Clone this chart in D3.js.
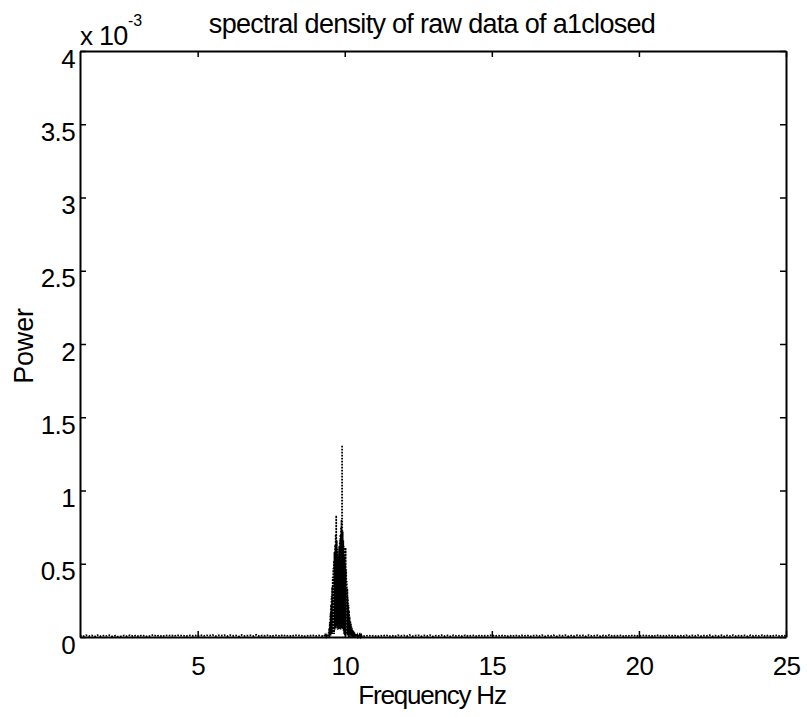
<!DOCTYPE html>
<html>
<head>
<meta charset="utf-8">
<script src="https://cdn.jsdelivr.net/npm/d3@7"></script>
<style>
  body { margin: 0; background: #fff; }
  text { font-family: "Liberation Sans", Arial, sans-serif; fill: #000; }
</style>
</head>
<body>
<svg id="chart" width="807" height="717"></svg>
<script>
// power values are in units of 1e-3
const xTicks = [5, 10, 15, 20, 25];
const yTicks = [0, 0.5, 1, 1.5, 2, 2.5, 3, 3.5, 4];
const yTickLabels = ["0", "0.5", "1", "1.5", "2", "2.5", "3", "3.5", "4"];

// baseline part of the spectrum below the peak, every 0.1 Hz from 1 Hz
const lowStart = 1, lowStep = 0.1;
const lowPower = [
    0.010, 0.004, 0.012, 0.006, 0.011, 0.003, 0.013, 0.005, 0.010, 0.007,
    0.012, 0.004, 0.009, 0.002, 0.006, 0.011, 0.005, 0.013, 0.006, 0.010,
    0.004, 0.012, 0.007, 0.003, 0.009, 0.014, 0.006, 0.011, 0.004, 0.012,
    0.008, 0.012, 0.006, 0.013, 0.009, 0.011, 0.005, 0.012, 0.008, 0.011,
    0.006, 0.013, 0.007, 0.012, 0.009, 0.014, 0.006, 0.012, 0.010, 0.013,
    0.005, 0.013, 0.008, 0.011, 0.004, 0.014, 0.007, 0.010, 0.012, 0.006,
    0.015, 0.005, 0.011, 0.008, 0.013, 0.004, 0.010, 0.012, 0.006, 0.014,
    0.007, 0.011, 0.005, 0.013, 0.009, 0.012, 0.004, 0.010, 0.007, 0.013,
    0.006, 0.011, 0.008
];
// the alpha peak, every 0.01 Hz from 9.3 Hz
const peakStart = 9.3, peakStep = 0.01;
const peakPower = [
    0.005, 0.012, 0.003, 0.010, 0.004, 0.015, 0.002, 0.011, 0.006, 0.018,
    0.000, 0.010, 0.000, 0.020, 0.000, 0.030, 0.010, 0.060, 0.000, 0.100,
    0.020, 0.160, 0.010, 0.220, 0.030, 0.280, 0.020, 0.340, 0.030, 0.410,
    0.020, 0.470, 0.030, 0.520, 0.020, 0.580, 0.050, 0.630, 0.060, 0.700,
    0.070, 0.830, 0.060, 0.660, 0.070, 0.600, 0.050, 0.550, 0.060, 0.570,
    0.050, 0.620, 0.060, 0.660, 0.070, 0.700, 0.050, 0.750, 0.060, 0.800,
    0.070, 1.310, 0.060, 0.720, 0.050, 0.660, 0.040, 0.620, 0.020, 0.550,
    0.010, 0.500, 0.020, 0.610, 0.010, 0.460, 0.020, 0.380, 0.010, 0.330,
    0.010, 0.270, 0.020, 0.220, 0.000, 0.180, 0.010, 0.140, 0.000, 0.110,
    0.010, 0.090, 0.000, 0.070, 0.005, 0.060, 0.000, 0.050, 0.004, 0.040,
    0.000, 0.035, 0.003, 0.030, 0.000, 0.025, 0.006, 0.020, 0.002, 0.018,
    0.005, 0.015, 0.003, 0.012, 0.006, 0.014, 0.002, 0.011, 0.005, 0.010,
    0.004, 0.012, 0.006, 0.009, 0.003, 0.011, 0.005, 0.010, 0.004, 0.008
];
// baseline above the peak, every 0.1 Hz from 10.6 Hz
const highStart = 10.6, highStep = 0.1;
const highPower = [
    0.009, 0.004, 0.012, 0.006, 0.010, 0.003, 0.011, 0.007, 0.013, 0.005,
    0.010, 0.004, 0.012, 0.008, 0.011, 0.005, 0.014, 0.006, 0.010, 0.012,
    0.005, 0.011, 0.007, 0.013, 0.004, 0.010, 0.008, 0.012, 0.006, 0.011,
    0.003, 0.012, 0.007, 0.010, 0.005, 0.013, 0.006, 0.009, 0.011, 0.004,
    0.012, 0.006, 0.010, 0.008, 0.014, 0.005, 0.011, 0.007, 0.012, 0.004,
    0.010, 0.006, 0.013, 0.005, 0.011, 0.008, 0.012, 0.004, 0.009, 0.011,
    0.006, 0.013, 0.005, 0.010, 0.007, 0.012, 0.004, 0.011, 0.008, 0.013,
    0.005, 0.010, 0.006, 0.012, 0.009, 0.011, 0.004, 0.013, 0.007, 0.010,
    0.012, 0.005, 0.011, 0.007, 0.014, 0.006, 0.010, 0.008, 0.012, 0.004,
    0.011, 0.006, 0.013, 0.005, 0.010, 0.008, 0.012, 0.006, 0.011, 0.004,
    0.013, 0.007, 0.010, 0.005, 0.012, 0.008, 0.011, 0.004, 0.010, 0.006,
    0.012, 0.005, 0.011, 0.007, 0.013, 0.006, 0.010, 0.008, 0.012, 0.005,
    0.010, 0.006, 0.012, 0.004, 0.011, 0.007, 0.013, 0.005, 0.010, 0.008,
    0.011, 0.004, 0.012, 0.006, 0.010, 0.007, 0.013, 0.005, 0.011, 0.006,
    0.009, 0.012, 0.005, 0.010, 0.007
];

const svg = d3.select("#chart");
const margin = {left: 80, right: 21, top: 51, bottom: 80};
const W = 807 - margin.left - margin.right;
const H = 717 - margin.top - margin.bottom;

const x = d3.scaleLinear().domain([1, 25]).range([0, W]);
const y = d3.scaleLinear().domain([0, 4]).range([H, 0]);

let pts = [];
lowPower.forEach((p, i) => pts.push([lowStart + i*lowStep, p]));
peakPower.forEach((p, i) => pts.push([peakStart + i*peakStep, p]));
highPower.forEach((p, i) => pts.push([highStart + i*highStep, p]));

const g = svg.append("g").attr("transform", `translate(${margin.left},${margin.top})`);

const line = d3.line().x(d => x(d[0])).y(d => y(d[1]));
g.append("path")
    .datum(pts)
    .attr("d", line)
    .attr("fill", "none")
    .attr("stroke", "#000")
    .attr("stroke-width", 1.7)
    .attr("stroke-dasharray", "1.7,1.3");

// axes, ticks pointing inward like matlab
const tk = 6;
const axB = g.append("g").attr("transform", `translate(0,${H})`)
    .call(d3.axisBottom(x).tickValues(xTicks).tickSizeInner(-tk).tickSizeOuter(0).tickPadding(20));
const axT = g.append("g")
    .call(d3.axisTop(x).tickValues(xTicks).tickSizeInner(-tk).tickSizeOuter(0).tickFormat(""));
const axL = g.append("g")
    .call(d3.axisLeft(y).tickValues(yTicks).tickSizeInner(-tk).tickSizeOuter(0)
        .tickFormat((d, i) => yTickLabels[i]).tickPadding(5));
const axR = g.append("g").attr("transform", `translate(${W},0)`)
    .call(d3.axisRight(y).tickValues(yTicks).tickSizeInner(-tk).tickSizeOuter(0).tickFormat(""));

[axB, axT, axL, axR].forEach(a => {
    a.select(".domain").attr("stroke", "#000").attr("stroke-width", 2);
    a.selectAll(".tick line").attr("stroke", "#000").attr("stroke-width", 1.5);
    a.selectAll("text").attr("font-size", 26).attr("font-family", "Liberation Sans, Arial, sans-serif")
        .attr("letter-spacing", -0.6);
});
axL.selectAll("text").attr("dy", "0.62em");
axB.selectAll("text").attr("dy", "0.71em");

// exponent
svg.append("text").attr("x", 80).attr("y", 45).attr("font-size", 26).text("x");
svg.append("text").attr("x", 99).attr("y", 45).attr("font-size", 27).attr("letter-spacing", -0.8).text("10");
svg.append("text").attr("x", 128).attr("y", 26).attr("font-size", 16).text("-3");

svg.append("text")
    .attr("x", 432).attr("y", 33)
    .attr("text-anchor", "middle").attr("font-size", 27).attr("letter-spacing", -0.7)
    .text("spectral density of raw data  of a1closed");

svg.append("text")
    .attr("x", 432).attr("y", 704)
    .attr("text-anchor", "middle").attr("font-size", 26).attr("letter-spacing", -1.2)
    .text("Frequency Hz");

svg.append("text")
    .attr("transform", "translate(33,346) rotate(-90)")
    .attr("text-anchor", "middle").attr("font-size", 27).attr("letter-spacing", -0.2)
    .text("Power");
</script>
</body>
</html>
